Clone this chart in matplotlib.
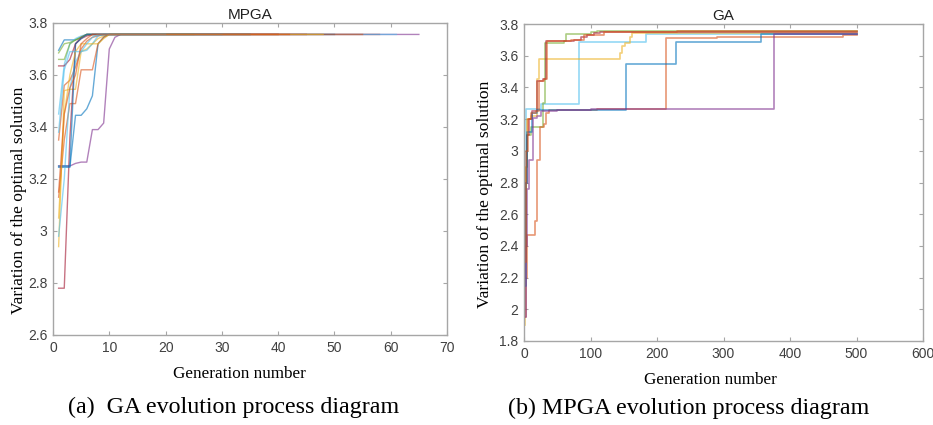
import matplotlib
matplotlib.use("Agg")
import matplotlib.pyplot as plt

# MATLAB default line colours
colors = ["#0072BD", "#D95319", "#EDB120", "#7E2F8E", "#77AC30", "#4DBEEE", "#A2142F"]

# ---- MPGA runs: best value at generations 1..k, then flat until last generation
mpga_colors = [0, 1, 2, 3, 4, 5, 6, 0, 1, 4, 6, 5, 0, 2, 5, 1]
mpga_last_gen = [30, 58, 40, 65, 35, 61, 45, 50, 55, 25, 40, 30, 35, 48, 20, 42]
mpga_values = [
    [3.695, 3.735, 3.735, 3.735, 3.745, 3.756],
    [3.35, 3.56, 3.58, 3.63, 3.70, 3.73, 3.745, 3.75, 3.756],
    [2.94, 3.54, 3.545, 3.545, 3.69, 3.70, 3.72, 3.74, 3.75, 3.756],
    [3.25, 3.25, 3.25, 3.26, 3.265, 3.265, 3.39, 3.39, 3.415, 3.70, 3.745, 3.756],
    [3.685, 3.72, 3.725, 3.735, 3.745, 3.756],
    [3.45, 3.64, 3.72, 3.74, 3.75, 3.756],
    [2.78, 2.78, 3.36, 3.72, 3.745, 3.756],
    [3.245, 3.245, 3.245, 3.445, 3.445, 3.47, 3.52, 3.72, 3.745, 3.756],
    [3.13, 3.35, 3.49, 3.49, 3.62, 3.62, 3.62, 3.72, 3.745, 3.756],
    [3.66, 3.66, 3.72, 3.735, 3.745, 3.756],
    [3.635, 3.635, 3.66, 3.72, 3.74, 3.75, 3.756],
    [2.98, 3.2, 3.55, 3.65, 3.69, 3.695, 3.72, 3.75, 3.756],
    [3.25, 3.25, 3.25, 3.72, 3.74, 3.756],
    [3.05, 3.45, 3.60, 3.69, 3.72, 3.72, 3.72, 3.72, 3.74, 3.756],
    [3.38, 3.62, 3.69, 3.69, 3.69, 3.72, 3.745, 3.756],
    [3.15, 3.45, 3.55, 3.60, 3.72, 3.74, 3.756],
]

# ---- GA runs: (generation, best value) change points
ga_colors = [5, 2, 4, 6, 1, 0, 3, 1]
ga_gens = [
    [1, 2, 3, 25, 82, 183, 500],
    [1, 2, 3, 4, 10, 19, 22, 145, 148, 152, 160, 163, 500],
    [1, 3, 5, 10, 28, 31, 60, 63, 100, 110, 500],
    [1, 2, 4, 8, 12, 20, 28, 33, 75, 85, 95, 105, 115, 500],
    [1, 3, 5, 16, 19, 24, 30, 33, 38, 110, 213, 290, 480, 500],
    [1, 3, 5, 12, 20, 154, 229, 356, 500],
    [1, 3, 5, 8, 13, 20, 25, 50, 100, 376, 500],
    [1, 3, 6, 10, 18, 22, 30, 34, 70, 90, 120, 230, 500],
]
ga_values = [
    [2.0, 2.6, 3.265, 3.295, 3.685, 3.74, 3.74],
    [1.9, 2.4, 2.9, 3.2, 3.22, 3.45, 3.58, 3.62, 3.66, 3.68, 3.72, 3.745, 3.745],
    [2.3, 2.9, 3.1, 3.15, 3.3, 3.68, 3.69, 3.74, 3.75, 3.755, 3.755],
    [2.2, 2.8, 3.1, 3.2, 3.25, 3.44, 3.45, 3.69, 3.70, 3.72, 3.73, 3.745, 3.752, 3.752],
    [1.95, 2.2, 2.47, 2.56, 2.94, 3.15, 3.17, 3.24, 3.26, 3.265, 3.71, 3.72, 3.73, 3.73],
    [2.15, 2.8, 3.12, 3.24, 3.26, 3.55, 3.685, 3.74, 3.74],
    [1.95, 2.4, 2.76, 2.94, 3.21, 3.22, 3.25, 3.26, 3.265, 3.735, 3.735],
    [2.3, 3.0, 3.2, 3.24, 3.25, 3.44, 3.45, 3.69, 3.70, 3.73, 3.75, 3.755, 3.755],
]

sans = ["Liberation Sans", "DejaVu Sans"]
serif = ["Liberation Serif", "DejaVu Serif"]

fig = plt.figure(figsize=(9.33, 4.25), dpi=100)
W, H = 933, 425


def style_axes(ax):
    for s in ax.spines.values():
        s.set_color("#a6a6a6")
        s.set_linewidth(1.0)
    ax.tick_params(direction="in", top=True, right=True, colors="#a6a6a6",
                   labelcolor="#404040", labelsize=10, length=3, pad=4)
    for lab in ax.get_xticklabels() + ax.get_yticklabels():
        lab.set_family(sans)


# left panel: MPGA
ax1 = fig.add_axes([53 / W, 1 - 335 / H, 394 / W, 312 / H])
for vals, last, c in zip(mpga_values, mpga_last_gen, mpga_colors):
    gens = list(range(1, len(vals) + 1)) + [last]
    ys = vals + [vals[-1]]
    ax1.plot(gens, ys, color=colors[c], lw=1.0, alpha=0.6)
ax1.set_xlim(0, 70)
ax1.set_ylim(2.6, 3.8)
ax1.set_xticks(range(0, 71, 10))
ax1.set_yticks([2.6, 2.8, 3.0, 3.2, 3.4, 3.6, 3.8])
ax1.set_yticklabels(["2.6", "2.8", "3", "3.2", "3.4", "3.6", "3.8"])
style_axes(ax1)
ax1.set_title("MPGA", family=sans, fontsize=11, color="#202020", pad=3)

# right panel: GA
ax2 = fig.add_axes([524 / W, 1 - 341 / H, 399 / W, 317 / H])
for g, v, c in zip(ga_gens, ga_values, ga_colors):
    ax2.plot(g, v, drawstyle="steps-post", color=colors[c], lw=1.2, alpha=0.6)
ax2.set_xlim(0, 600)
ax2.set_ylim(1.8, 3.8)
ax2.set_xticks(range(0, 601, 100))
ax2.set_yticks([1.8, 2.0, 2.2, 2.4, 2.6, 2.8, 3.0, 3.2, 3.4, 3.6, 3.8])
ax2.set_yticklabels(["1.8", "2", "2.2", "2.4", "2.6", "2.8", "3", "3.2", "3.4", "3.6", "3.8"])
style_axes(ax2)
ax2.set_title("GA", family=sans, fontsize=11, color="#202020", pad=3)

# axis labels and captions placed in figure pixels
def ftext(x, y, s, **kw):
    fig.text(x / W, 1 - y / H, s, ha="center", va="center", family=serif, **kw)

ftext(19, 200, "Variation of the optimal solution", rotation=90, fontsize=12.6)
ftext(485, 194, "Variation of the optimal solution", rotation=90, fontsize=12.6)
ftext(239, 374, "Generation number", fontsize=12.3)
ftext(710, 380, "Generation number", fontsize=12.3)
ftext(234, 407, "(a)  GA evolution process diagram", fontsize=17.3)
ftext(689, 408, "(b) MPGA evolution process diagram", fontsize=17.3)

fig.savefig("out.png", dpi=100, facecolor="white")
